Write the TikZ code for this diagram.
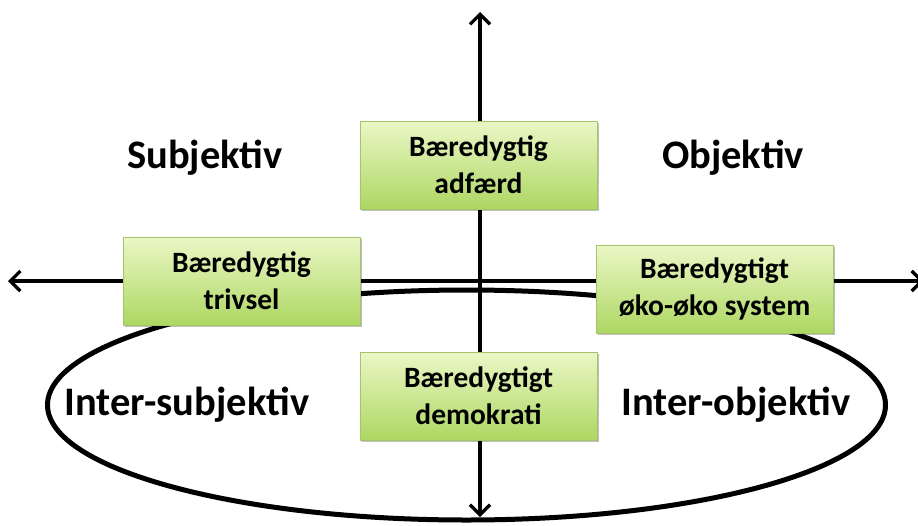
\documentclass[tikz,border=0pt]{standalone}
\usepackage{fontspec}
\setmainfont{Carlito}
\usetikzlibrary{arrows.meta,shadows}
\definecolor{boxborder}{HTML}{A6C56A}
\definecolor{boxtop}{HTML}{EBF7C6}
\definecolor{boxbottom}{HTML}{ADD762}
\tikzset{
  greenbox/.style={draw=boxborder, line width=0.8pt, top color=boxtop, bottom color=boxbottom,
    minimum width=237pt, minimum height=88pt, align=center, inner sep=0pt,
    font=\bfseries\fontsize{29.5}{37}\selectfont,
    drop shadow={shadow xshift=2pt, shadow yshift=-2pt, fill=black, opacity=0.25}},
  axis/.style={line width=3.3pt, -{Straight Barb[length=10pt,width=20pt,line width=3.3pt]}},
  quad/.style={font=\bfseries\fontsize{40.5}{46}\selectfont, inner sep=0pt}
}
\begin{document}
\begin{tikzpicture}[x=1pt,y=-1pt]
\useasboundingbox (0,0) rectangle (918,525);
\coordinate (c) at (480,281);
\coordinate (top) at (480,12);
\coordinate (bot) at (480,517);
\coordinate (left) at (8,281);
\coordinate (right) at (924,281);
\draw[axis] (c) -- (top);
\draw[axis] (c) -- (bot);
\draw[axis] (c) -- (left);
\draw[axis] (c) -- (right);
\draw[line width=5pt] (466.5,405) ellipse [x radius=419, y radius=115];
\node[greenbox] (adf) at (478.5,165) {Bæredygtig\\adfærd};
\node[greenbox] (triv) at (241.5,281) {Bæredygtig\\trivsel};
\node[greenbox] (oko) at (714.5,289) {Bæredygtigt\\øko-øko system};
\node[greenbox] (demo) at (478.5,396) {Bæredygtigt\\demokrati};
\node[quad] (subj) at (205,158) {Subjektiv};
\node[quad] (obj) at (733,158) {Objektiv};
\node[quad] (isubj) at (187,405) {Inter-subjektiv};
\node[quad] (iobj) at (736,405) {Inter-objektiv};
\end{tikzpicture}
\end{document}
